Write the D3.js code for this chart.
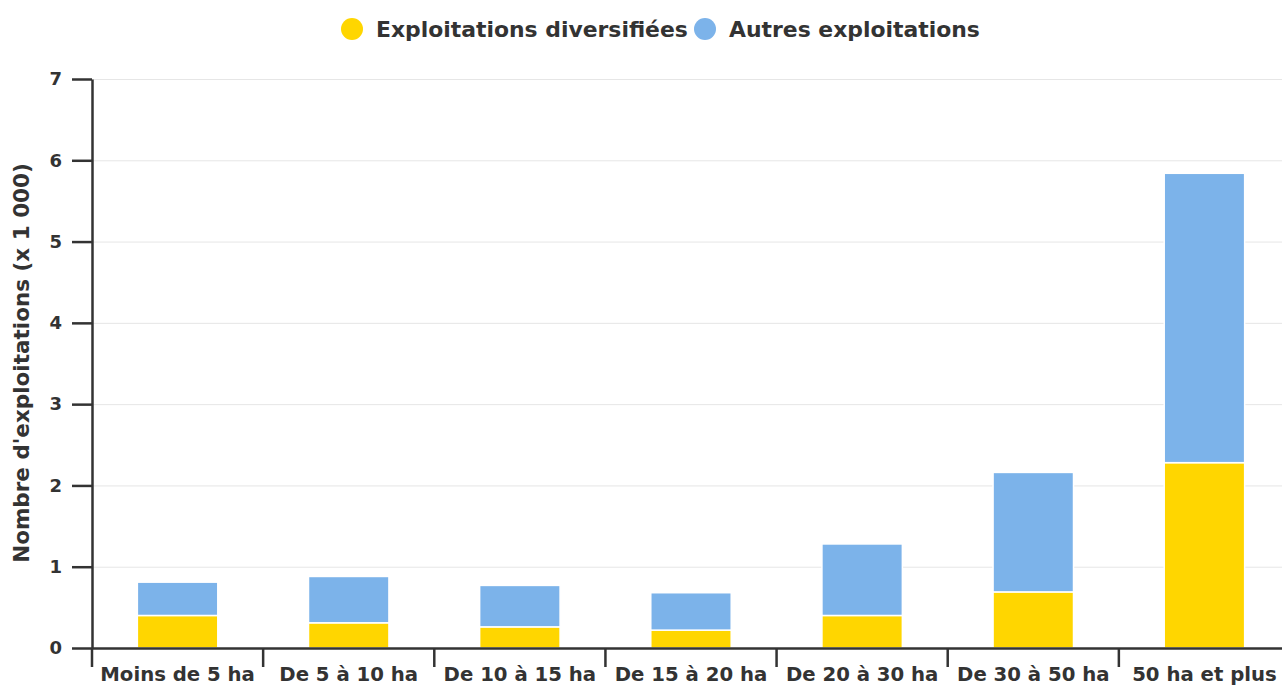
<!DOCTYPE html>
<head>
<meta charset="UTF-8">
<script src="https://d3js.org/d3.v7.min.js"></script>
<style>
  body { margin: 0; background: #fff; }
  text { font-family: "DejaVu Sans", sans-serif; font-weight: bold; fill: #333; }
</style>
</head>
<body>
<div id="my_dataviz"></div>
<script>

// data
var categories = ["Moins de 5 ha", "De 5 à 10 ha", "De 10 à 15 ha", "De 15 à 20 ha",
                  "De 20 à 30 ha", "De 30 à 50 ha", "50 ha et plus"];
var diversifiees = [0.40, 0.31, 0.26, 0.22, 0.40, 0.69, 2.28];
var autres = [0.41, 0.57, 0.51, 0.46, 0.88, 1.47, 3.56];
var seriesNames = ["Exploitations diversifiées", "Autres exploitations"];
var seriesColors = ["#ffd600", "#7cb3ea"];
var yTicks = [0, 1, 2, 3, 4, 5, 6, 7];

var W = 1282, H = 686;
var margin = {top: 79, right: 0, bottom: 38, left: 92};

var svg = d3.select("#my_dataviz")
  .append("svg")
    .attr("width", W)
    .attr("height", H);

var x = d3.scaleBand()
  .domain(categories)
  .range([margin.left, 1290])
  .paddingInner(0.53)
  .paddingOuter(0.265);

var y = d3.scaleLinear()
  .domain([0, 7])
  .range([648, margin.top]);

// gridlines
svg.append("g")
  .selectAll("line")
  .data(yTicks.slice(1))
  .enter()
  .append("line")
    .attr("x1", margin.left)
    .attr("x2", W)
    .attr("y1", function(d) { return y(d) + 0.5 })
    .attr("y2", function(d) { return y(d) + 0.5 })
    .style("stroke", "#e6e6e6")
    .style("stroke-width", 1);

// stacked bars
var rows = categories.map(function(c, i) {
  return {cat: c, div: diversifiees[i], aut: autres[i]};
});
var stack = d3.stack().keys(["div", "aut"])(rows);

svg.append("g")
  .selectAll("g")
  .data(stack)
  .enter()
  .append("g")
    .style("fill", function(d, i) { return seriesColors[i] })
  .selectAll("rect")
  .data(function(d) { return d })
  .enter()
  .append("rect")
    .attr("x", function(d) { return x(d.data.cat) })
    .attr("width", x.bandwidth())
    .attr("y", function(d) { return y(d[1]) })
    .attr("height", function(d) { return y(d[0]) - y(d[1]) })
    .style("stroke", "#fff")
    .style("stroke-width", 1.5);

// y axis
var yAxis = svg.append("g")
  .attr("transform", "translate(" + margin.left + ",0)")
  .call(d3.axisLeft(y).tickValues(yTicks).tickFormat(d3.format("d"))
    .tickSize(20).tickPadding(10).tickSizeOuter(0));
yAxis.select(".domain").style("stroke", "#333").style("stroke-width", 2.5);
yAxis.selectAll(".tick line").style("stroke", "#333").style("stroke-width", 2.5);
yAxis.selectAll(".tick text").style("font-size", "18px");

// x axis
var xAxis = svg.append("g")
  .attr("transform", "translate(0,648)")
  .call(d3.axisBottom(x).tickSize(0).tickPadding(19).tickSizeOuter(0));
xAxis.select(".domain").style("stroke", "#333").style("stroke-width", 2.5);
xAxis.selectAll(".tick text").style("font-size", "19.7px");

// category boundary ticks on x axis
svg.append("g")
  .selectAll("line")
  .data(categories)
  .enter()
  .append("line")
    .attr("x1", function(d) { return x(d) - x.step() * x.paddingInner() / 2 })
    .attr("x2", function(d) { return x(d) - x.step() * x.paddingInner() / 2 })
    .attr("y1", 648)
    .attr("y2", 667)
    .style("stroke", "#333")
    .style("stroke-width", 2.5);

// y axis title
svg.append("text")
  .attr("transform", "translate(29,363) rotate(-90)")
  .attr("text-anchor", "middle")
  .style("font-size", "21.5px")
  .text("Nombre d'exploitations (x 1 000)");

// legend
var legendX = [352, 705];
var legend = svg.append("g")
  .selectAll("g")
  .data(seriesNames)
  .enter()
  .append("g")
    .attr("transform", function(d, i) { return "translate(" + legendX[i] + ",29)" });
legend.append("circle")
  .attr("r", 11)
  .style("fill", function(d, i) { return seriesColors[i] });
legend.append("text")
  .attr("x", 24)
  .attr("dy", "0.35em")
  .style("font-size", "21.9px")
  .text(function(d) { return d });

</script>
</body>
